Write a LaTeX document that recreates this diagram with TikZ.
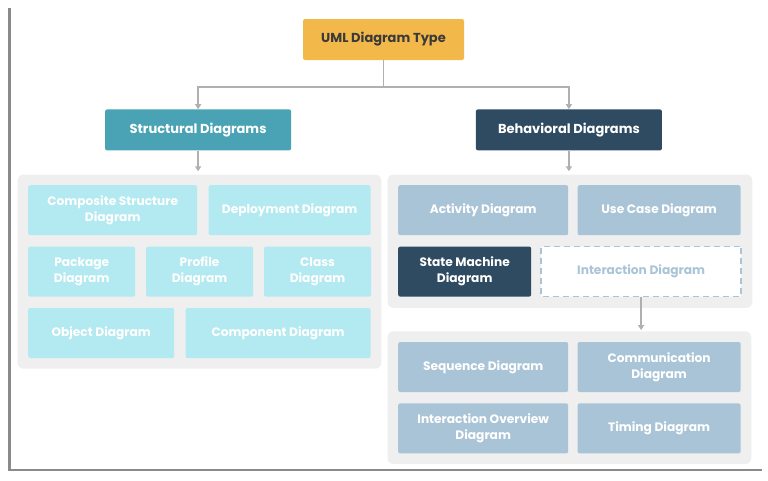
\documentclass[tikz,border=0pt]{standalone}
\usepackage{fontspec}
\setmainfont{Poppins}
\usetikzlibrary{arrows.meta, positioning, fit, backgrounds}
\definecolor{rootorange}{RGB}{242,185,74}
\definecolor{roottext}{RGB}{58,58,58}
\definecolor{structteal}{RGB}{74,163,180}
\definecolor{behavnavy}{RGB}{47,75,98}
\definecolor{structlight}{RGB}{179,233,240}
\definecolor{behavlight}{RGB}{169,196,215}
\definecolor{groupgray}{RGB}{239,239,239}
\definecolor{linegray}{RGB}{176,176,176}
\definecolor{framegray}{RGB}{138,138,138}
\tikzstyle{root} = [rectangle, fill=rootorange, text=roottext, minimum width=161pt, minimum height=41pt, rounded corners=2pt, font=\bfseries\fontsize{13}{15}\selectfont]
\tikzstyle{head} = [rectangle, text=white, minimum width=186pt, minimum height=41pt, rounded corners=2pt, font=\bfseries\fontsize{13}{15}\selectfont]
\tikzstyle{sbox} = [rectangle, fill=structlight, text=white, minimum height=50pt, rounded corners=2pt, align=center, font=\bfseries\fontsize{12.2}{16}\selectfont]
\tikzstyle{bbox} = [sbox, fill=behavlight]
\tikzstyle{group} = [rectangle, fill=groupgray, rounded corners=6pt, inner sep=10.5pt]
\tikzstyle{arrow} = [-{Triangle[length=5pt, width=6pt]}, line width=1.6pt, draw=linegray]

\begin{document}
\begin{tikzpicture}[x=1pt, y=-1pt]
  \useasboundingbox (0,0) rectangle (768,480);
  \draw[framegray, line width=2.5pt] (9.5,8) |- (762,470);

  \node[root] (root) at (383.5,39.5) {UML Diagram Type};
  \node[head, fill=structteal, below left=49pt and 11.5pt of root] (struct) {Structural Diagrams};
  \node[head, fill=behavnavy, below right=49pt and 11.5pt of root] (behav) {Behavioral Diagrams};
  \coordinate[below=27pt of root] (split);

  % structural
  \node[sbox, minimum width=169pt, anchor=north west] (comp) at (28,185) {Composite Structure\\Diagram};
  \node[sbox, minimum width=162pt, right=11pt of comp] (deploy) {Deployment Diagram};
  \node[sbox, minimum width=107pt, below=11pt of comp.south west, anchor=north west] (package) {Package\\Diagram};
  \node[sbox, minimum width=107pt, right=10.5pt of package] (profile) {Profile\\Diagram};
  \node[sbox, minimum width=107pt, right=10.5pt of profile] (class) {Class\\Diagram};
  \node[sbox, minimum width=146pt, below=11pt of package.south west, anchor=north west] (object) {Object Diagram};
  \node[sbox, minimum width=185pt, right=11pt of object] (component) {Component Diagram};

  % behavioral
  \node[bbox, minimum width=170pt, anchor=north west] (activity) at (398,185) {Activity Diagram};
  \node[bbox, minimum width=163pt, right=9pt of activity] (usecase) {Use Case Diagram};
  \node[bbox, fill=behavnavy, minimum width=133pt, below=11pt of activity.south west, anchor=north west] (state) {State Machine\\Diagram};
  \node[bbox, fill=white, text=behavlight, draw=behavlight, line width=1.4pt, dash pattern=on 6pt off 4pt, rounded corners=1pt, minimum width=200pt, right=9pt of state] (inter) {Interaction Diagram};

  % interaction
  \node[bbox, minimum width=170pt, below=45pt of state.south west, anchor=north west] (sequence) {Sequence Diagram};
  \node[bbox, minimum width=163pt, right=9pt of sequence] (comm) {Communication\\Diagram};
  \node[bbox, minimum width=170pt, below=11pt of sequence.south west, anchor=north west] (overview) {Interaction Overview\\Diagram};
  \node[bbox, minimum width=163pt, right=9pt of overview] (timing) {Timing Diagram};

  \begin{scope}[on background layer]
    \node[group, fit=(comp)(deploy)(object)(component)] (sgroup) {};
    \node[group, fit=(activity)(usecase)(state)(inter)] (bgroup) {};
    \node[group, fit=(sequence)(comm)(overview)(timing)] (igroup) {};
  \end{scope}

  \draw[arrow] (root) -- (split) -| (struct);
  \draw[arrow] (split) -| (behav);
  \draw[arrow, shorten >=3pt] (struct.south) -- (struct.south |- sgroup.north);
  \draw[arrow, shorten >=3pt] (behav.south) -- (behav.south |- bgroup.north);
  \draw[arrow, shorten >=1pt] (inter.south) -- (inter.south |- igroup.north);
\end{tikzpicture}
\end{document}
